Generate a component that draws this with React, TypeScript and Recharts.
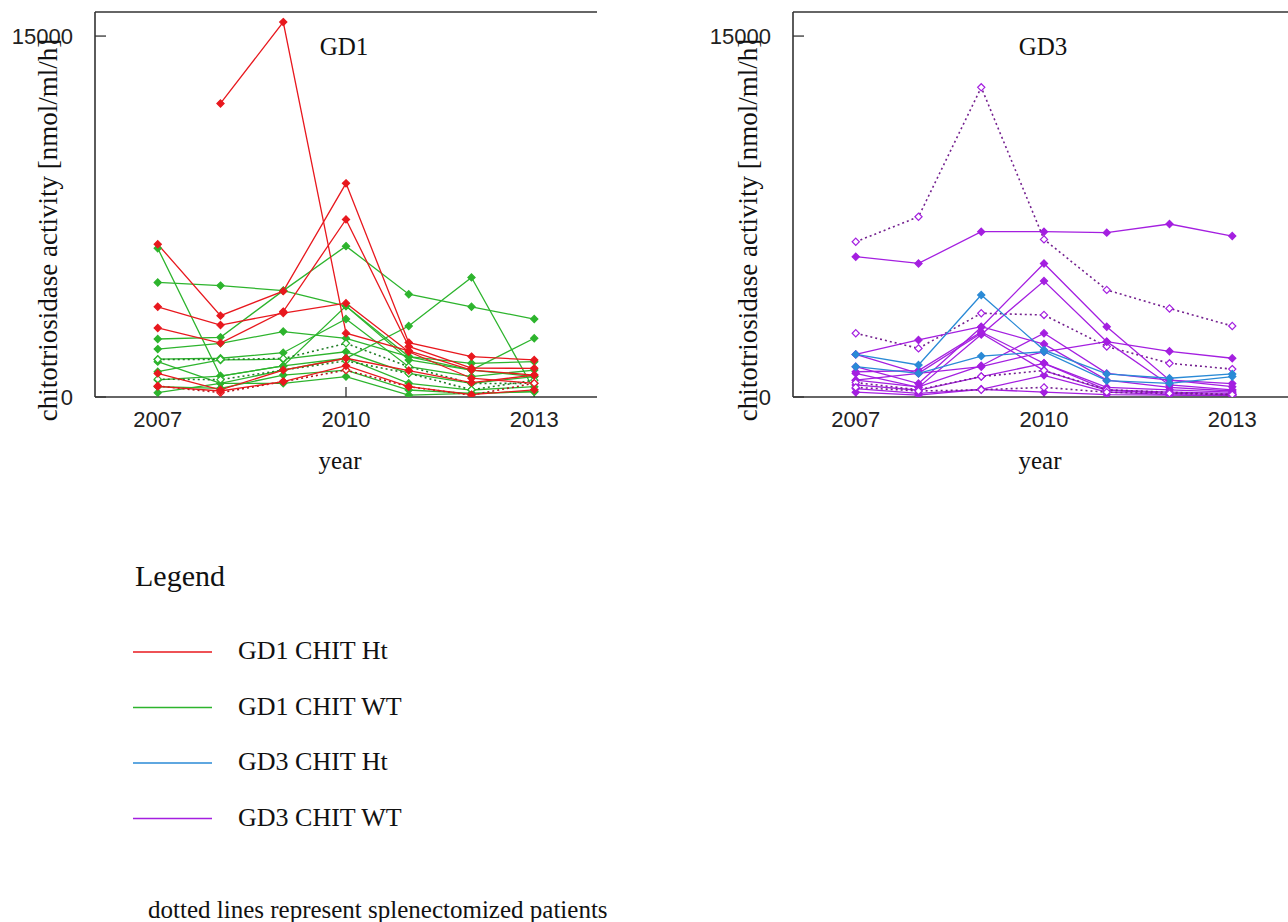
import React from 'react';
import { LineChart, Line, XAxis, YAxis, ReferenceLine } from 'recharts';

const YEARS = [2007, 2008, 2009, 2010, 2011, 2012, 2013];

// GD1, CHIT heterozygous (red)
const gd1Ht1 = [6350, 3380, 4400, 8880, 2260, 1680, 1540];
const gd1Ht2 = [null, 12200, 15580, 2650, 1920, 1120, 910];
const gd1Ht3 = [3750, 2990, 3490, 3900, 1880, 780, 570];
const gd1Ht4 = [2870, 2240, 3550, 7380, 2100, 1200, 1190];
const gd1Ht5 = [980, 300, 1120, 1610, 1100, 600, 910];
const gd1Ht6 = [460, 180, 640, 1120, 430, 80, 570]; // splenectomized
const gd1Ht7 = [440, 250, 640, 1300, 430, 100, 300];

// GD1, CHIT wild type (green)
const gd1Wt1 = [6180, 870, 1290, 3780, 1540, 1120, 850];
const gd1Wt2 = [4760, 4630, 4420, 3780, 1680, 1400, 1470];
const gd1Wt3 = [2410, 2480, 4420, 6270, 4270, 3750, 3240];
const gd1Wt4 = [1470, 570, 1120, 1610, 2950, 4970, 290];
const gd1Wt5 = [1990, 2230, 2720, 2440, 1680, 1120, 2440];
const gd1Wt6 = [1570, 1610, 1840, 3240, 1260, 850, 1120];
const gd1Wt7 = [1050, 1540, 1570, 1880, 980, 570, 850];
const gd1Wt8 = [710, 870, 1290, 1610, 570, 290, 430];
const gd1Wt9 = [430, 360, 910, 1120, 290, 150, 220];
const gd1Wt10 = [180, 570, 570, 850, 80, 150, 220];
const gd1Wt11 = [1560, 1560, 1600, 2230, 1260, 560, 570]; // splenectomized
const gd1Wt12 = [740, 720, 1120, 1500, 980, 300, 700]; // splenectomized

// GD3, CHIT heterozygous (blue)
const gd3Ht1 = [1770, 1330, 4240, 1950, 960, 780, 960];
const gd3Ht2 = [1260, 980, 1700, 1880, 680, 570, 850];

// GD3, CHIT wild type (purple)
const gd3Wt1 = [5830, 5550, 6870, 6870, 6830, 7190, 6690];
const gd3Wt2 = [6450, 7490, 12870, 6550, 4450, 3680, 2950]; // splenectomized
const gd3Wt3 = [2650, 2020, 3480, 3410, 2100, 1400, 1160]; // splenectomized
const gd3Wt4 = [1260, 560, 2900, 5550, 2920, 700, 430];
const gd3Wt5 = [980, 400, 2600, 4820, 2300, 500, 300];
const gd3Wt6 = [1770, 980, 1260, 1880, 2300, 1900, 1610];
const gd3Wt7 = [1770, 2370, 2920, 2200, 700, 400, 250];
const gd3Wt8 = [1050, 1100, 2700, 1400, 400, 300, 200];
const gd3Wt9 = [700, 980, 2650, 1100, 280, 150, 100];
const gd3Wt10 = [700, 420, 1300, 2650, 980, 700, 560];
const gd3Wt11 = [500, 280, 850, 1400, 300, 200, 150];
const gd3Wt12 = [350, 150, 320, 900, 200, 100, 60];
const gd3Wt13 = [200, 80, 320, 200, 100, 80, 50];
const gd3Wt14 = [600, 300, 850, 1100, 300, 200, 100]; // splenectomized
const gd3Wt15 = [400, 250, 300, 400, 200, 150, 100]; // splenectomized

const X_TICKS = [2007, 2010, 2013];
const Y_TICKS = [0, 15000];

const RED = '#e8181e';
const GREEN = '#2db42d';
const BLUE = '#2a8ad6';
const PURPLE = '#a41fe0';
const AXIS = '#333';

// dotted (splenectomized) lines are drawn a bit darker
const DARKER: Record<string, string> = {
  [RED]: '#b0141a',
  [GREEN]: '#1f7d24',
  [PURPLE]: '#74208f',
};

const SERIF = "'Liberation Serif', 'Times New Roman', serif";
const SANS = "'Liberation Sans', Arial, sans-serif";

type Series = { key: string; values: (number | null)[]; color: string; dotted?: boolean };

const gd1Series: Series[] = [
  { key: 'w1', values: gd1Wt1, color: GREEN },
  { key: 'w2', values: gd1Wt2, color: GREEN },
  { key: 'w3', values: gd1Wt3, color: GREEN },
  { key: 'w4', values: gd1Wt4, color: GREEN },
  { key: 'w5', values: gd1Wt5, color: GREEN },
  { key: 'w6', values: gd1Wt6, color: GREEN },
  { key: 'w7', values: gd1Wt7, color: GREEN },
  { key: 'w8', values: gd1Wt8, color: GREEN },
  { key: 'w9', values: gd1Wt9, color: GREEN },
  { key: 'w10', values: gd1Wt10, color: GREEN },
  { key: 'w11', values: gd1Wt11, color: GREEN, dotted: true },
  { key: 'w12', values: gd1Wt12, color: GREEN, dotted: true },
  { key: 'h1', values: gd1Ht1, color: RED },
  { key: 'h2', values: gd1Ht2, color: RED },
  { key: 'h3', values: gd1Ht3, color: RED },
  { key: 'h4', values: gd1Ht4, color: RED },
  { key: 'h5', values: gd1Ht5, color: RED },
  { key: 'h6', values: gd1Ht6, color: RED, dotted: true },
  { key: 'h7', values: gd1Ht7, color: RED },
];

const gd3Series: Series[] = [
  { key: 'w1', values: gd3Wt1, color: PURPLE },
  { key: 'w2', values: gd3Wt2, color: PURPLE, dotted: true },
  { key: 'w3', values: gd3Wt3, color: PURPLE, dotted: true },
  { key: 'w4', values: gd3Wt4, color: PURPLE },
  { key: 'w5', values: gd3Wt5, color: PURPLE },
  { key: 'w6', values: gd3Wt6, color: PURPLE },
  { key: 'w7', values: gd3Wt7, color: PURPLE },
  { key: 'w8', values: gd3Wt8, color: PURPLE },
  { key: 'w9', values: gd3Wt9, color: PURPLE },
  { key: 'w10', values: gd3Wt10, color: PURPLE },
  { key: 'w11', values: gd3Wt11, color: PURPLE },
  { key: 'w12', values: gd3Wt12, color: PURPLE },
  { key: 'w13', values: gd3Wt13, color: PURPLE },
  { key: 'w14', values: gd3Wt14, color: PURPLE, dotted: true },
  { key: 'w15', values: gd3Wt15, color: PURPLE, dotted: true },
  { key: 'h1', values: gd3Ht1, color: BLUE },
  { key: 'h2', values: gd3Ht2, color: BLUE },
];

const makeDot = (color: string, open: boolean) => (p: any) => {
  const { cx, cy, index, value } = p;
  if (cx == null || cy == null || value == null) return <g key={`d${index}`} />;
  const r = 3.6;
  return (
    <path
      key={`d${index}`}
      d={`M${cx},${cy - r}L${cx + r},${cy}L${cx},${cy + r}L${cx - r},${cy}Z`}
      fill={open ? '#fff' : color}
      stroke={color}
      strokeWidth={1.2}
    />
  );
};

function Panel({ left, series }: { left: number; series: Series[] }) {
  const data = YEARS.map((year, i) => {
    const row: any = { year };
    series.forEach((s) => {
      row[s.key] = s.values[i];
    });
    return row;
  });

  return (
    <div style={{ position: 'absolute', left, top: 0 }}>
      <LineChart width={620} height={445} data={data} margin={{ top: 12, right: 23, bottom: 18, left: 0 }}>
        <XAxis
          dataKey="year"
          type="number"
          domain={[2006, 2014]}
          ticks={X_TICKS}
          allowDataOverflow
          height={30}
          tickSize={-10}
          tickMargin={24}
          axisLine={{ stroke: AXIS, strokeWidth: 1.6 }}
          tickLine={{ stroke: AXIS, strokeWidth: 1.3 }}
          tick={{ fill: '#222', fontSize: 22, fontFamily: SANS }}
        />
        <YAxis
          yAxisId="l"
          domain={[0, 16000]}
          ticks={Y_TICKS}
          allowDataOverflow
          width={95}
          tickSize={-11}
          tickMargin={33}
          axisLine={{ stroke: AXIS, strokeWidth: 1.6 }}
          tickLine={{ stroke: AXIS, strokeWidth: 1.3 }}
          tick={{ fill: '#222', fontSize: 22, fontFamily: SANS }}
        />
        <YAxis
          yAxisId="r"
          orientation="right"
          domain={[0, 16000]}
          ticks={[15000]}
          width={0}
          tickSize={-10}
          tickFormatter={() => ''}
          axisLine={{ stroke: AXIS, strokeWidth: 1.6 }}
          tickLine={{ stroke: AXIS, strokeWidth: 1.3 }}
        />
        <ReferenceLine yAxisId="l" y={16000} stroke={AXIS} strokeWidth={1.6} />
        {series.map((s) => (
          <Line
            key={s.key}
            yAxisId="l"
            dataKey={s.key}
            type="linear"
            stroke={s.dotted ? DARKER[s.color] || s.color : s.color}
            strokeWidth={s.dotted ? 1.6 : 1.3}
            strokeDasharray={s.dotted ? '2 3' : undefined}
            dot={makeDot(s.color, !!s.dotted)}
            activeDot={false}
            isAnimationActive={false}
          />
        ))}
      </LineChart>
    </div>
  );
}

const LEGEND_ITEMS = ['GD1 CHIT Ht', 'GD1 CHIT WT', 'GD3 CHIT Ht', 'GD3 CHIT WT'];
const LEGEND_COLORS = [RED, GREEN, BLUE, PURPLE];

const serif = (size: number): React.CSSProperties => ({ fontFamily: SERIF, fontSize: size, fill: '#111' });

export default function App() {
  const yLabel = 'chitotriosidase activity [nmol/ml/h]';
  return (
    <div
      style={{
        position: 'absolute',
        left: 0,
        top: 0,
        width: 1288,
        height: 922,
        overflow: 'hidden',
        background: '#fff',
      }}
    >
      <Panel left={0} series={gd1Series} />
      <Panel left={698} series={gd3Series} />
      <svg width={1288} height={922} style={{ position: 'absolute', left: 0, top: 0, pointerEvents: 'none' }}>
        <text x={344} y={55} style={serif(25)} textAnchor="middle">GD1</text>
        <text x={1043} y={55} style={serif(25)} textAnchor="middle">GD3</text>
        <text transform="translate(48,230) rotate(-90)" style={serif(27)} textAnchor="middle" dominantBaseline="central">
          {yLabel}
        </text>
        <text transform="translate(748,230) rotate(-90)" style={serif(27)} textAnchor="middle" dominantBaseline="central">
          {yLabel}
        </text>
        <text x={340} y={469} style={serif(25)} textAnchor="middle">year</text>
        <text x={1040} y={469} style={serif(25)} textAnchor="middle">year</text>

        <text x={135} y={586} style={serif(30)}>Legend</text>
        {LEGEND_ITEMS.map((name, i) => (
          <g key={name}>
            <line x1={133} x2={212} y1={652 + i * 55.5} y2={652 + i * 55.5} stroke={LEGEND_COLORS[i]} strokeWidth={1.4} />
            <text x={238} y={659 + i * 55.5} style={serif(26)}>{name}</text>
          </g>
        ))}
        <text x={148} y={918} style={serif(25)}>dotted lines represent splenectomized patients</text>
      </svg>
    </div>
  );
}
